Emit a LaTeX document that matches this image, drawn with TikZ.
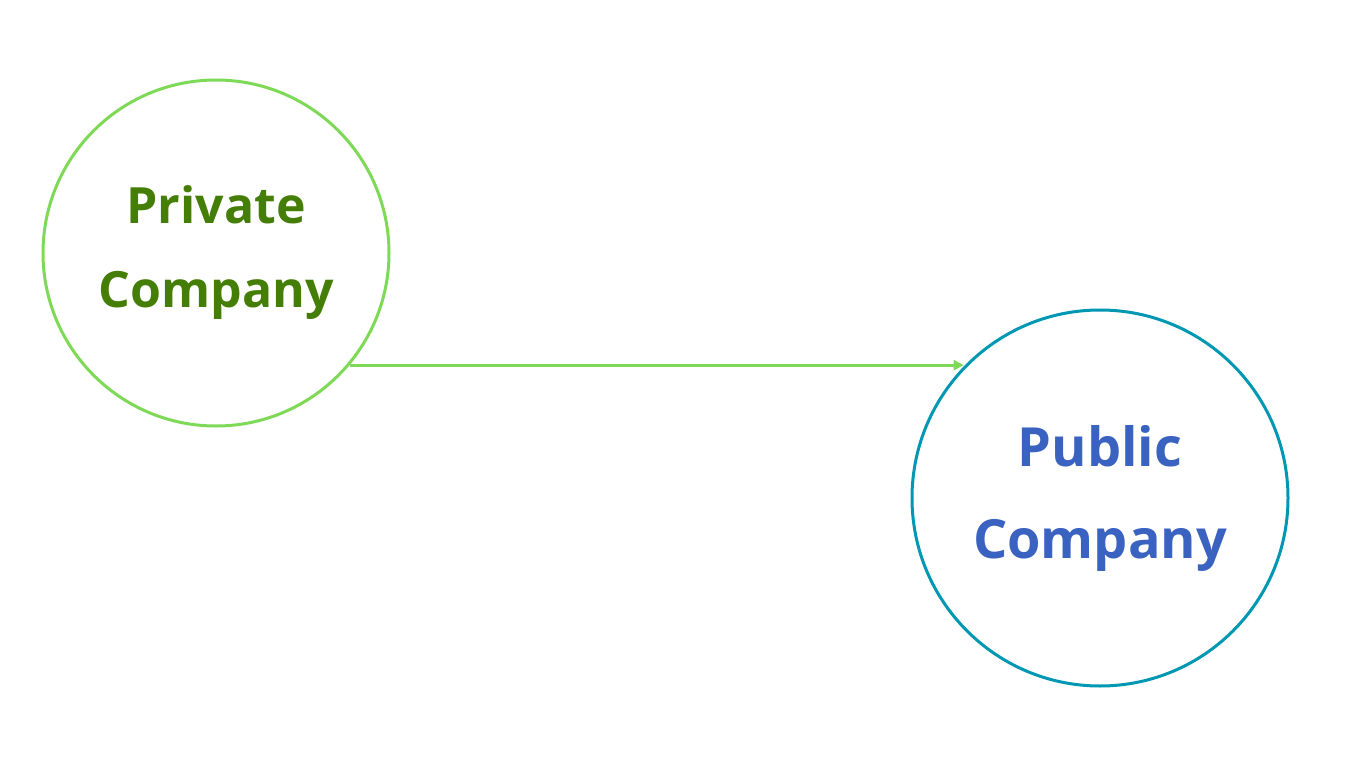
\documentclass[tikz,border=0pt]{standalone}
\usepackage{fontspec}
\setmainfont{Open Sans}
\usetikzlibrary{arrows.meta}
\definecolor{gcirc}{HTML}{7ED957}
\definecolor{gtext}{HTML}{457E06}
\definecolor{bcirc}{HTML}{0097B2}
\definecolor{btext}{HTML}{3A62C0}
\begin{document}
\begin{tikzpicture}[x=1pt,y=-1pt,
  co/.style={circle,line width=3pt,inner sep=0pt,align=center,font=\bfseries}]
\useasboundingbox (0,0) rectangle (1366,768);
\node[co,draw=gcirc,text=gtext,minimum size=346pt,font=\fontsize{50}{84}\selectfont\bfseries] (a) at (216,253) {Private\\Company};
\node[co,draw=bcirc,text=btext,minimum size=376pt,font=\fontsize{54}{92}\selectfont\bfseries] (b) at (1100,498) {Public\\Company};
\draw[gcirc,line width=3pt,-{Triangle[length=10pt,width=10pt]}] (a.-40.6) -- (a.-40.6 -| b.136.3);
\end{tikzpicture}
\end{document}
